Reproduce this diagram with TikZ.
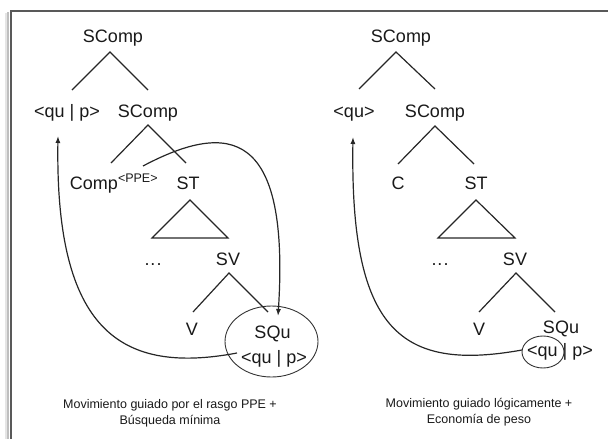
\documentclass[tikz,border=0pt]{standalone}
\usepackage{fontspec}
\setmainfont{Liberation Sans}
\usetikzlibrary{arrows.meta,shapes.geometric}
\begin{document}
\begin{tikzpicture}[x=1pt,y=-1pt,
  lbl/.style={anchor=base,inner sep=0pt,font=\fontsize{18}{20}\selectfont,text=black!90},
  captxt/.style={anchor=base,inner sep=0pt,font=\fontsize{12.5}{15}\selectfont,text=black!90},
  br/.style={line width=1.2pt,black!85},
  mv/.style={line width=1.2pt,black!85,-{Latex[length=7pt,width=5pt]}},
  ring/.style={draw,ellipse,line width=0.9pt,black!80,inner sep=0pt}]
\useasboundingbox (0,0) rectangle (608,439);
% frame
\draw[line width=2.5pt,black!10] (6,439) -- (6,13);
\draw[line width=1.5pt,black!25] (8,439) -- (8,12);
\draw[line width=2pt,black!65] (10.5,439) -- (10.5,11) -- (608,11);
% ---------- left tree ----------
\node[lbl] (ls1) at (113,42) {SComp};
\node[lbl] (lq) at (67,117) {<qu | p>};
\node[lbl] (ls2) at (148,117) {SComp};
\node[lbl] (lc) at (113.8,189) {Comp\raisebox{7pt}{\fontsize{12.5}{14}\selectfont<PPE>}};
\node[lbl] (lt) at (188,189) {ST};
\node[lbl] (ld) at (153,265) {.\kern1pt.\kern1pt.};
\node[lbl] (lv) at (228,265) {SV};
\node[lbl] (lV) at (192,335) {V};
\node[lbl] (lsq) at (272.5,338) {SQu};
\node[lbl] (lqp) at (274,363) {<qu | p>};
\node[ring,minimum width=93pt,minimum height=71pt] (lel) at (271.5,341.5) {};
\coordinate (la1) at (110,52); \coordinate (la1l) at (72,90); \coordinate (la1r) at (148,90);
\coordinate (la2) at (148,125); \coordinate (la2l) at (111,163); \coordinate (la2r) at (186,163);
\coordinate (ltr) at (190,200); \coordinate (ltl) at (152,238); \coordinate (ltrr) at (228,238);
\coordinate (la3) at (229,273); \coordinate (la3l) at (193,312); \coordinate (la3r) at (268,312);
\draw[br] (la1l) -- (la1) -- (la1r);
\draw[br] (la2l) -- (la2) -- (la2r);
\draw[br] (ltr) -- (ltl) -- (ltrr) -- cycle;
\draw[br] (la3l) -- (la3) -- (la3r);
\coordinate (lm1s) at (143,166); \coordinate (lm1e) at (278,316);
\draw[mv] (lm1s) .. controls (230,120) and (290,130) .. (lm1e);
\coordinate (lm2s) at (237,353); \coordinate (lm2e) at (58,136);
\draw[mv] (lm2s) .. controls (120,375) and (55,330) .. (lm2e);
\node[captxt] (cap1a) at (170,408) {Movimiento guiado por el rasgo PPE +};
\node[captxt] (cap1b) at (170,424) {Búsqueda mínima};
% ---------- right tree ----------
\node[lbl] (rs1) at (401,42) {SComp};
\node[lbl] (rq) at (354,117) {<qu>};
\node[lbl] (rs2) at (435,117) {SComp};
\node[lbl] (rc) at (398,189) {C};
\node[lbl] (rt) at (476,189) {ST};
\node[lbl] (rd) at (440,265) {.\kern1pt.\kern1pt.};
\node[lbl] (rv) at (515,265) {SV};
\node[lbl] (rV) at (479,335) {V};
\node[lbl] (rsq) at (561,333) {SQu};
\node[lbl] (rqp) at (560,356) {<qu | p>};
\node[ring,minimum width=42pt,minimum height=32pt] (rel) at (543,352) {};
\coordinate (ra1) at (396,52); \coordinate (ra1l) at (359,89); \coordinate (ra1r) at (435,89);
\coordinate (ra2) at (435,126); \coordinate (ra2l) at (398,164); \coordinate (ra2r) at (474,164);
\coordinate (rtr) at (476,200); \coordinate (rtl) at (438,238); \coordinate (rtrr) at (515,238);
\coordinate (ra3) at (516,273); \coordinate (ra3l) at (479,312); \coordinate (ra3r) at (555,312);
\draw[br] (ra1l) -- (ra1) -- (ra1r);
\draw[br] (ra2l) -- (ra2) -- (ra2r);
\draw[br] (rtr) -- (rtl) -- (rtrr) -- cycle;
\draw[br] (ra3l) -- (ra3) -- (ra3r);
\coordinate (rm2s) at (522,350); \coordinate (rm2e) at (353,137);
\draw[mv] (rm2s) .. controls (400,372) and (350,330) .. (rm2e);
\node[captxt] (cap2a) at (479,407) {Movimiento guiado lógicamente +};
\node[captxt] (cap2b) at (479,423) {Economía de peso};
\end{tikzpicture}
\end{document}
